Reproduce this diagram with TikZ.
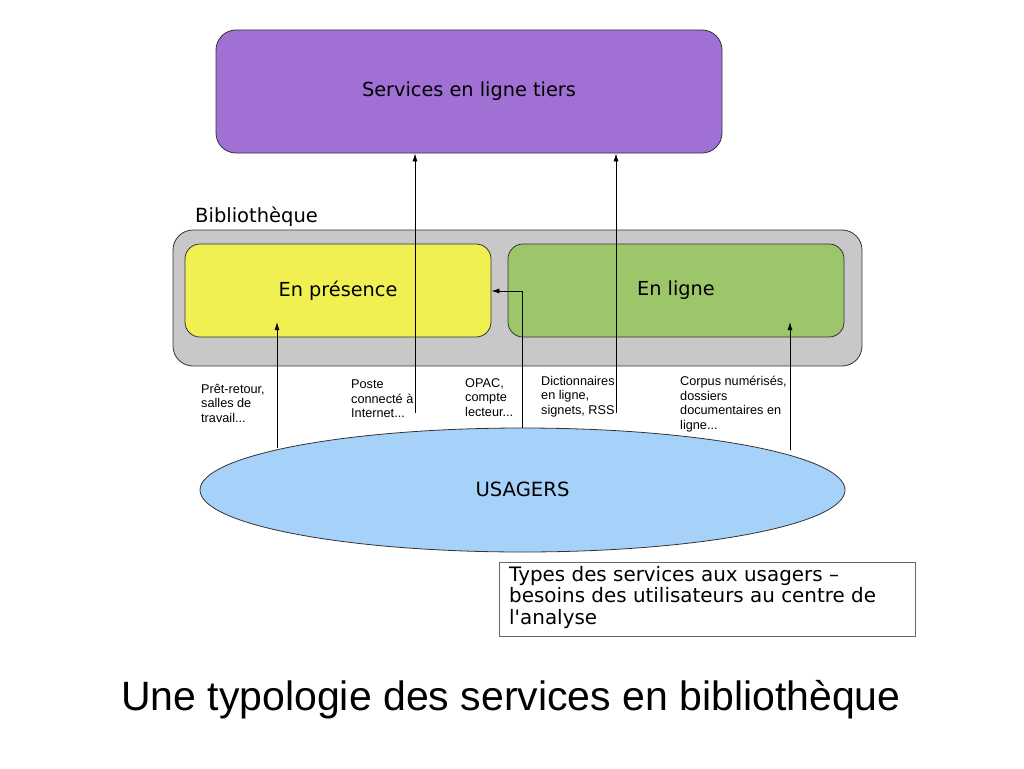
\documentclass[tikz,border=0pt]{standalone}
\usepackage{fontspec}
\setmainfont{DejaVu Sans}
\newfontfamily\djv{DejaVu Sans}
\newfontfamily\arialf{Liberation Sans}
\usetikzlibrary{arrows.meta,shapes.geometric}
\definecolor{cpurple}{RGB}{161,112,212}
\definecolor{cgray}{RGB}{200,200,200}
\definecolor{cyellow}{RGB}{240,240,82}
\definecolor{cgreen}{RGB}{157,198,106}
\definecolor{cblue}{RGB}{166,210,250}
\newcommand\mystrut{\rule[-2pt]{0pt}{17pt}}
\tikzset{
  box/.style={draw=black!80, line width=0.8pt, rounded corners=20pt, inner sep=0pt, font=\fontsize{19.3}{23}\selectfont},
  small/.style={anchor=north west, align=left, inner sep=0pt, font=\arialf\fontsize{12.7}{14.5}\selectfont},
  conn/.style={line width=0.8pt, -{Latex[length=8pt,width=5pt]}},
}
\begin{document}
\begin{tikzpicture}[x=1pt,y=-1pt]
\useasboundingbox (0,0) rectangle (1024,768);
\fill[white] (0,0) rectangle (1024,768);
\node[box, fill=cpurple, minimum width=506pt, minimum height=123pt] (tiers) at (469,91.5) {\mystrut Services en ligne tiers};
\node[anchor=south west, inner sep=0pt, font=\fontsize{19.5}{23}\selectfont] (bibl) at (195,227) {Bibliothèque};
\node[box, fill=cgray, minimum width=689pt, minimum height=136pt] (bib) at (517.5,298) {};
\node[box, fill=cyellow, rounded corners=15pt, minimum width=306pt, minimum height=93pt] (pres) at (338,290.5) {\mystrut En présence};
\node[box, fill=cgreen, rounded corners=15pt, minimum width=336pt, minimum height=93pt] (ligne) at (676,290.5) {\mystrut En ligne};
\node[box, ellipse, fill=cblue, minimum width=645pt, minimum height=124pt, font=\fontsize{19.6}{23}\selectfont] (usagers) at (522.5,490) {\mystrut USAGERS};

\node[small] (l1) at (201,384) {Prêt-retour,\\salles de\\travail...};
\node[small] (l2) at (351,380) {Poste\\connecté à\\Internet...};
\node[small] (l3) at (465,378) {OPAC,\\compte\\lecteur...};
\node[small] (l4) at (541,376) {Dictionnaires\\en ligne,\\signets, RSS};
\node[small] (l5) at (680,376) {Corpus numérisés,\\dossiers\\documentaires en\\ligne...};

\node[draw=black!60, line width=0.6pt, anchor=north west, minimum width=416pt, minimum height=74pt, inner sep=0pt] (note) at (499,562) {};
\node[anchor=north west, align=left, inner sep=0pt, font=\djv\fontsize{19.9}{21.5}\selectfont] (notetxt) at (509,566) {Types des services aux usagers –\\besoins des utilisateurs au centre de\\l'analyse};

\node[font=\arialf\fontsize{41}{46}\selectfont, inner sep=0pt] (title) at (511,700) {Une typologie des services en bibliothèque};

\coordinate (a1) at (277,448);
\coordinate (a2) at (415,413);
\coordinate (a3) at (522,428);
\coordinate (a4) at (616,413);
\coordinate (a5) at (790,450);
\draw[conn] (a1) -- (277,322);
\draw[conn] (a2) -- (a2 |- tiers.south);
\draw[conn] (a3) -- (522,291) -- (pres.east |- 0,291);
\draw[conn] (a4) -- (a4 |- tiers.south);
\draw[conn] (a5) -- (790,322);
\end{tikzpicture}
\end{document}
